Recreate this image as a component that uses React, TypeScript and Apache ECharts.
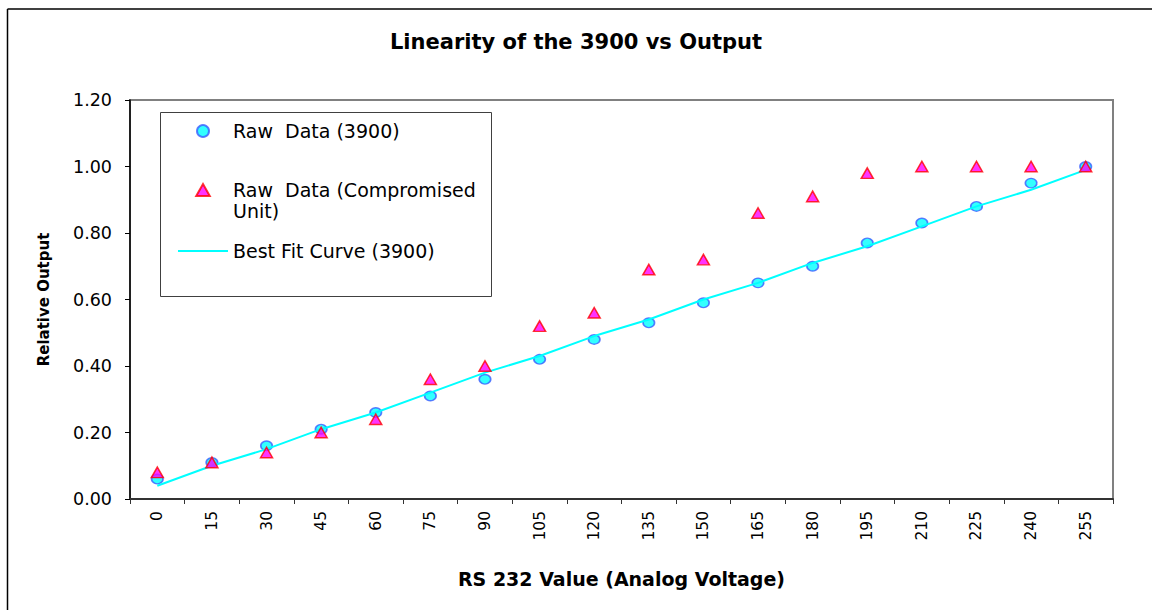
import React, { useEffect, useRef } from "react";
import * as echarts from "echarts";

const categories = ["0", "15", "30", "45", "60", "75", "90", "105", "120", "135", "150", "165", "180", "195", "210", "225", "240", "255"];
const rawData3900 = [0.06, 0.11, 0.16, 0.21, 0.26, 0.31, 0.36, 0.42, 0.48, 0.53, 0.59, 0.65, 0.70, 0.77, 0.83, 0.88, 0.95, 1.0];
const rawDataCompromised = [0.08, 0.11, 0.14, 0.2, 0.24, 0.36, 0.4, 0.52, 0.56, 0.69, 0.72, 0.86, 0.91, 0.98, 1.0, 1.0, 1.0, 1.0];
const bestFit3900 = [0.04, 0.10, 0.15, 0.21, 0.26, 0.32, 0.38, 0.43, 0.49, 0.54, 0.60, 0.65, 0.71, 0.76, 0.82, 0.88, 0.93, 0.99];

const titleText = "Linearity of the 3900 vs Output";
const xAxisTitle = "RS 232 Value (Analog Voltage)";
const yAxisTitle = "Relative Output";
const nameRaw = "Raw  Data (3900)";
const nameCompromised = "Raw  Data (Compromised Unit)";
const nameFit = "Best Fit Curve (3900)";

const FONT = "DejaVu Sans";

export default function App() {
  const ref = useRef<HTMLDivElement>(null);
  useEffect(() => {
    document.body.style.margin = "0";
    document.documentElement.style.overflow = "hidden";
    const chart = echarts.init(ref.current!, null, { renderer: "svg" });
    chart.setOption({
      animation: false,
      backgroundColor: "#ffffff",
      title: {
        text: titleText,
        left: "center",
        top: 26,
        textStyle: { fontFamily: FONT, fontWeight: "bold", fontSize: 21, color: "#000" },
      },
      graphic: [
        {
          type: "line",
          shape: { x1: 7.5, y1: 9, x2: 1152, y2: 9 },
          style: { stroke: "#000", lineWidth: 1.5 },
          silent: true,
        },
        {
          type: "line",
          shape: { x1: 7.5, y1: 9, x2: 7.5, y2: 610 },
          style: { stroke: "#000", lineWidth: 1.5 },
          silent: true,
        },
        {
          type: "rect",
          shape: { x: 160.5, y: 112.5, width: 331, height: 184 },
          style: { fill: "none", stroke: "#404040", lineWidth: 1 },
          silent: true,
          z: 1,
        },
      ],
      legend: {
        orient: "vertical",
        left: 178,
        top: 102.5,
        padding: 0,
        itemGap: 19,
        itemWidth: 50,
        itemHeight: 12,
        symbolKeepAspect: true,
        selectedMode: false,
        textStyle: {
          fontFamily: FONT,
          fontSize: 19,
          color: "#000",
          lineHeight: 23,
          rich: {
            a: { fontFamily: FONT, fontSize: 19, color: "#000", lineHeight: 23 },
            b: { fontFamily: FONT, fontSize: 19, color: "#000", lineHeight: 0, verticalAlign: "top" },
            c: { fontFamily: FONT, fontSize: 19, color: "#000", lineHeight: 57 },
          },
        },
        formatter: (n: string) =>
          n === nameCompromised
            ? "{a|Raw  Data (Compromised}\n{b|Unit)}"
            : n === nameRaw
            ? "{c|" + n + "}"
            : n,
        data: [
          { name: nameRaw, icon: "circle" },
          { name: nameCompromised, icon: "path://M6.5,0L13,11.5L0,11.5Z" },
          { name: nameFit, icon: "path://M0,0h50v2h-50z" },
        ],
      },
      grid: {
        left: 130,
        top: 100,
        width: 983,
        height: 399,
        show: true,
        borderColor: "#808080",
        borderWidth: 2,
        backgroundColor: "transparent",
      },
      xAxis: {
        type: "category",
        data: categories,
        boundaryGap: true,
        name: xAxisTitle,
        nameLocation: "middle",
        nameGap: 70,
        nameTextStyle: { fontFamily: FONT, fontWeight: "bold", fontSize: 19, color: "#000" },
        axisLine: { lineStyle: { color: "#333", width: 2 } },
        axisTick: { show: true, alignWithLabel: false, length: 5, lineStyle: { color: "#333" } },
        axisLabel: { interval: 0, rotate: 90, margin: 12, fontFamily: FONT, fontSize: 15.5, color: "#000" },
        splitLine: { show: false },
      },
      yAxis: {
        type: "value",
        min: 0,
        max: 1.2,
        interval: 0.2,
        name: yAxisTitle,
        nameLocation: "middle",
        nameGap: 79,
        nameTextStyle: { fontFamily: FONT, fontWeight: "bold", fontSize: 15, color: "#000" },
        axisLine: { show: true, lineStyle: { color: "#000", width: 1.5 } },
        axisTick: { show: true, length: 5, lineStyle: { color: "#000" } },
        axisLabel: {
          margin: 18,
          fontFamily: FONT,
          fontSize: 17.5,
          color: "#000",
          formatter: (v: number) => v.toFixed(2),
        },
        splitLine: { show: false },
      },
      series: [
        {
          name: nameRaw,
          type: "scatter",
          data: rawData3900,
          symbol: "circle",
          symbolSize: [11.5, 9.5],
          itemStyle: { color: "#00ffff", borderColor: "#3a5cff", borderWidth: 1.5 },
          z: 3,
        },
        {
          name: nameFit,
          type: "line",
          data: bestFit3900,
          symbol: "none",
          showSymbol: false,
          lineStyle: { color: "#00ffff", width: 2 },
          itemStyle: { color: "#00ffff" },
          z: 4,
        },
        {
          name: nameCompromised,
          type: "scatter",
          data: rawDataCompromised,
          symbol: "triangle",
          symbolSize: [12, 10.5],
          itemStyle: { color: "#ff00ff", borderColor: "#ff0000", borderWidth: 1.5 },
          z: 5,
        },
      ],
    });
    return () => chart.dispose();
  }, []);
  return <div ref={ref} style={{ width: 1152, height: 610 }} />;
}
